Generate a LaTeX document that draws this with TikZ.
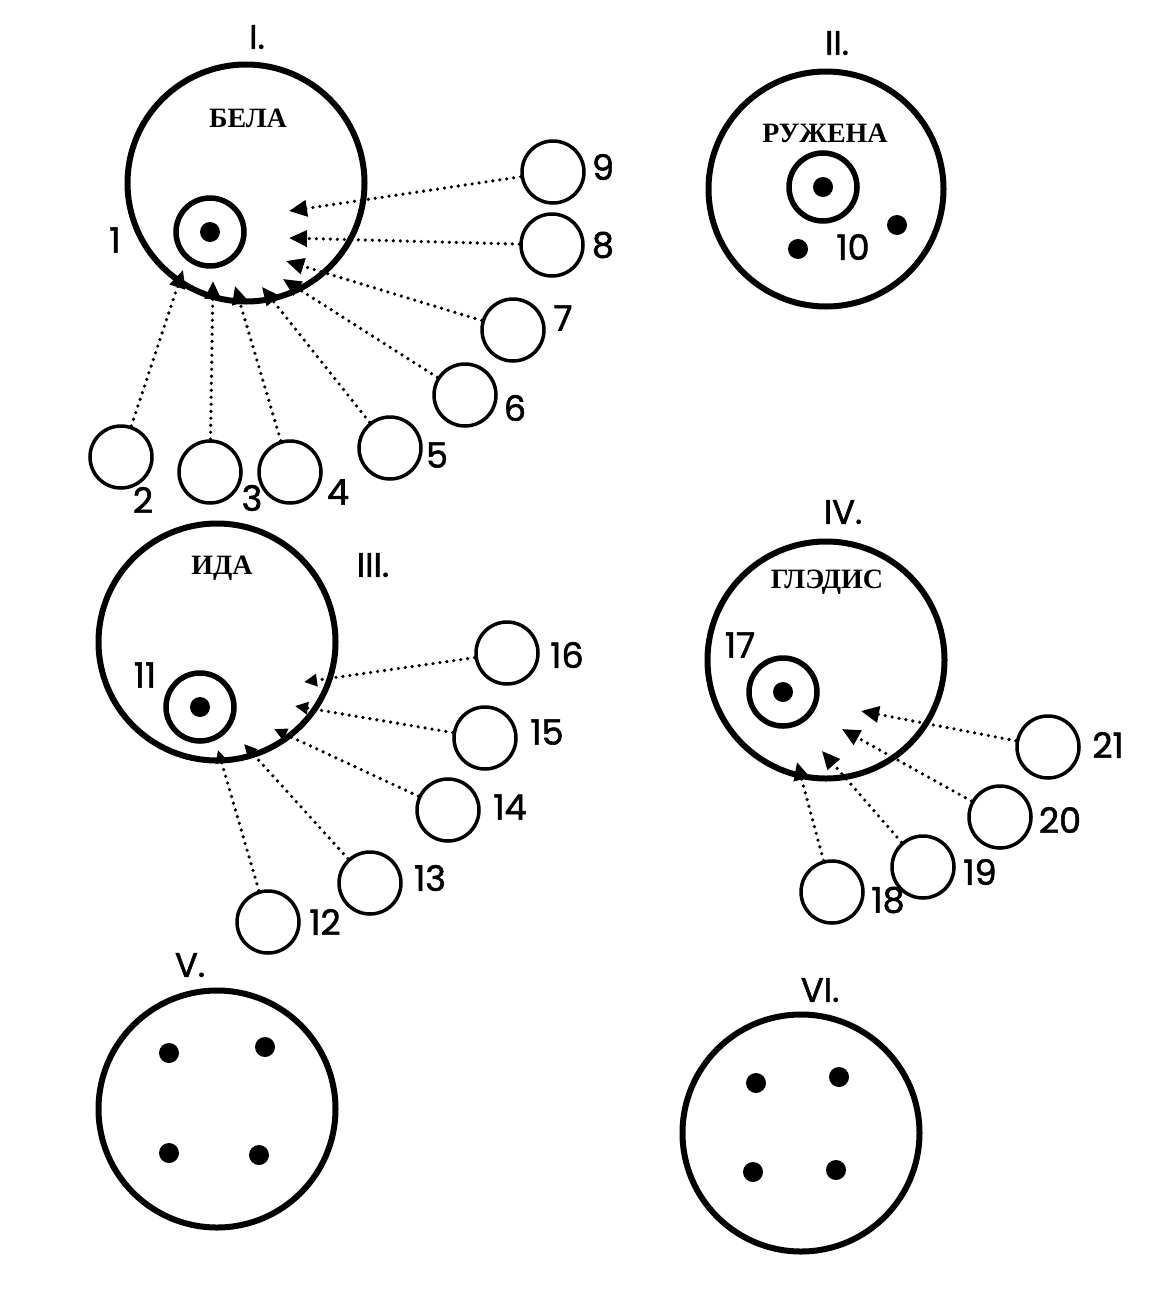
\documentclass[tikz,border=0pt]{standalone}
\usepackage{fontspec}
\usetikzlibrary{arrows.meta}
\newfontfamily\numfont[FakeBold=1.6]{Poppins}
\newfontfamily\namefont{Liberation Serif}

\begin{document}
\begin{tikzpicture}[x=1pt, y=-1pt, every node/.style={inner sep=0pt}]
\tikzstyle{person}=[circle, draw, line width=6pt, minimum size=237pt]
\tikzstyle{core}=[circle, draw, line width=5.5pt, minimum size=68pt]
\tikzstyle{blob}=[circle, fill, minimum size=20pt]
\tikzstyle{other}=[circle, draw, line width=3.5pt, minimum size=62pt]
\tikzstyle{link}=[-{Triangle[length=18pt,width=16pt]}, line width=3.6pt, line cap=round, dash pattern=on 0pt off 7pt]
\tikzstyle{smalllink}=[link, -{Triangle[length=13pt,width=12pt]}]
\tikzstyle{num}=[font=\numfont\fontsize{35}{35}\selectfont]
\tikzstyle{roman}=[font=\numfont\fontsize{34}{34}\selectfont]
\tikzstyle{personname}=[font=\namefont\bfseries\fontsize{28}{28}\selectfont]
\useasboundingbox (0,0) rectangle (1155,1293);

% I.
\node[roman] (romI) at (257,37) {I.};
\node[person] (bela) at (246,183) {};
\node[personname] (belaname) at (248,118) {БЕЛА};
\node[core] (core1) at (210,232) {};
\node[blob] (blob1) at (210,232) {};
\node[num] (n1) at (115,240) {1};
\node[other] (o2) at (121,457) {};
\node[other] (o3) at (210,472) {};
\node[other] (o4) at (290,472) {};
\node[other] (o5) at (390,448) {};
\node[other] (o6) at (465,395) {};
\node[other] (o7) at (513,330) {};
\node[other] (o8) at (552,245) {};
\node[other] (o9) at (553,172) {};
\node[num] (n2) at (143,500) {2};
\node[num] (n3) at (252,498) {3};
\node[num] (n4) at (338,492) {4};
\node[num] (n5) at (437,455) {5};
\node[num] (n6) at (515,408) {6};
\node[num] (n7) at (563,318) {7};
\node[num] (n8) at (603,245) {8};
\node[num] (n9) at (603,167) {9};
\coordinate (t2) at (183,270);
\coordinate (t3) at (213,281);
\coordinate (t4) at (235,286);
\coordinate (t5) at (262,287);
\coordinate (t6) at (283,279);
\coordinate (t7) at (286,261);
\coordinate (t8) at (289,238);
\coordinate (t9) at (289,211);
\draw[link] (o2) -- (t2);
\draw[link] (o3) -- (t3);
\draw[link] (o4) -- (t4);
\draw[link] (o5) -- (t5);
\draw[link] (o6) -- (t6);
\draw[link] (o7) -- (t7);
\draw[link] (o8) -- (t8);
\draw[link] (o9) -- (t9);

% II.
\node[roman] (romII) at (837,43) {II.};
\node[person, minimum size=235pt] (ruzh) at (826,189) {};
\node[personname] (ruzhname) at (825,133) {РУЖЕНА};
\node[core] (core10) at (823,187) {};
\node[blob] (blob10) at (823,187) {};
\node[blob] (blob10a) at (798,249) {};
\node[blob] (blob10b) at (897,225) {};
\node[num] (n10) at (853,247) {10};

% III.
\node[roman] (romIII) at (373,565) {III.};
\node[person] (ida) at (217,642) {};
\node[personname] (idaname) at (222,568) {ИДА};
\node[core] (core11) at (200,707) {};
\node[blob] (blob11) at (200,707) {};
\node[num] (n11) at (145,675) {11};
\node[other] (o12) at (268,922) {};
\node[other] (o13) at (370,883) {};
\node[other] (o14) at (448,810) {};
\node[other] (o15) at (485,738) {};
\node[other] (o16) at (507,653) {};
\node[num] (n12) at (325,922) {12};
\node[num] (n13) at (430,878) {13};
\node[num] (n14) at (510,807) {14};
\node[num] (n15) at (547,732) {15};
\node[num] (n16) at (567,655) {16};
\coordinate (t12) at (218,750);
\coordinate (t13) at (244,744);
\coordinate (t14) at (274,729);
\coordinate (t15) at (295,706);
\coordinate (t16) at (304,682);
\draw[smalllink] (o12) -- (t12);
\draw[smalllink] (o13) -- (t13);
\draw[smalllink] (o14) -- (t14);
\draw[smalllink] (o15) -- (t15);
\draw[smalllink] (o16) -- (t16);

% IV.
\node[roman] (romIV) at (843,512) {IV.};
\node[person] (glad) at (826,660) {};
\node[personname] (gladname) at (827,582) {ГЛЭДИС};
\node[core] (core17) at (783,692) {};
\node[blob] (blob17) at (783,692) {};
\node[num] (n17) at (740,645) {17};
\node[other] (o18) at (832,892) {};
\node[other] (o19) at (923,867) {};
\node[other] (o20) at (1000,817) {};
\node[other] (o21) at (1048,747) {};
\node[num] (n18) at (888,900) {18};
\node[num] (n19) at (980,872) {19};
\node[num] (n20) at (1060,820) {20};
\node[num] (n21) at (1108,745) {21};
\coordinate (t18) at (797,762);
\coordinate (t19) at (822,751);
\coordinate (t20) at (842,729);
\coordinate (t21) at (861,711);
\draw[link] (o18) -- (t18);
\draw[link] (o19) -- (t19);
\draw[link] (o20) -- (t20);
\draw[link] (o21) -- (t21);

% V.
\node[roman] (romV) at (190,965) {V.};
\node[person] (groupV) at (217,1109) {};
\node[blob] (v1) at (169,1053) {};
\node[blob] (v2) at (265,1047) {};
\node[blob] (v3) at (169,1153) {};
\node[blob] (v4) at (259,1155) {};

% VI.
\node[roman] (romVI) at (820,990) {VI.};
\node[person] (groupVI) at (801,1133) {};
\node[blob] (w1) at (756,1083) {};
\node[blob] (w2) at (839,1077) {};
\node[blob] (w3) at (753,1172) {};
\node[blob] (w4) at (836,1170) {};
\end{tikzpicture}
\end{document}
